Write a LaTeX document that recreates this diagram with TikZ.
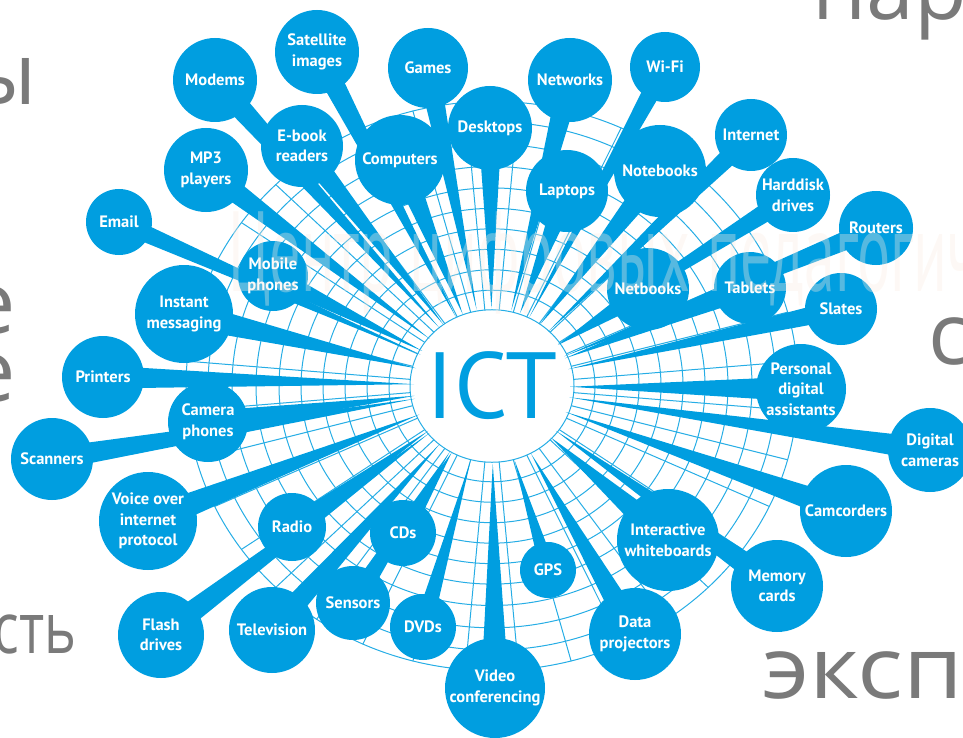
\documentclass[tikz,border=0pt]{standalone}
\usepackage{fontspec}
\setmainfont{PT Sans}
\newfontfamily\slidefont{Open Sans}
\usetikzlibrary{calc,backgrounds}
\definecolor{ictblue}{RGB}{0,158,224}
\definecolor{slidegray}{RGB}{122,122,122}
\definecolor{markbeige}{RGB}{250,236,226}
\tikzset{
  bubble/.style={circle,fill=ictblue,text=white,align=center,inner sep=0pt,font=\bfseries\fontsize{16.5}{20.5}\selectfont},
  spoke/.style={fill=ictblue},
  web/.style={draw=ictblue!85,line width=1pt},
  slide text/.style={text=slidegray,inner sep=0pt,font=\slidefont\fontsize{86}{86}\selectfont},
  watermark/.style={text=markbeige,text opacity=0.35,inner sep=0pt,font=\fontsize{114}{114}\selectfont},
}
\def\bubbles{modems/215/80/42/Modems, satellite/317/52/42/{Satellite\\images}, games/428/68/40/Games,
  ebook/302/146/41/{E-book\\readers}, computers/400/160/45/Computers, mpthree/206/170/42/{MP3\\players},
  email/119/222/33/Email, mobile/273/276/35/{Mobile\\phones}, instant/184/314/49/{Instant\\messaging},
  desktops/490/128/42/Desktops, networks/570/80/42/Networks, wifi/665/67/35/Wi-Fi,
  laptops/567/191/41/Laptops, notebooks/660/171/46/Notebooks, internet/751/135/36/Internet,
  harddisk/793/195/37/{Harddisk\\drives}, routers/876/228/37/Routers, netbooks/648/289/41/Netbooks,
  tablets/750/288/36/Tablets, slates/841/309/36/Slates, pda/801/389/45/{Personal\\digital\\assistants},
  digicam/930/450/42/{Digital\\cameras}, camcorders/846/511/46/Camcorders,
  whiteboards/668/540/51/{Interactive\\whiteboards}, memory/777/586/46/{Memory\\cards},
  gps/548/570/28/GPS, projectors/635/634/46/{Data\\projectors}, video/495/688/50/{Video\\conferencing},
  dvds/423/627/33/DVDs, sensors/353/603/37/Sensors, cds/403/533/33/CDs,
  television/272/630/43/Television, radio/292/527/34/Radio, flash/161/635/43/{Flash\\drives},
  voip/148/521/49/{Voice over\\internet\\protocol}, scanners/52/459/41/Scanners,
  cameraph/208/422/40/{Camera\\phones}, printers/103/377/41/Printers}

\begin{document}
\begin{tikzpicture}[x=1pt,y=-1pt]
\useasboundingbox (0,0) rectangle (963,738);
\clip (0,0) rectangle (963,738);
\node[text=ictblue,inner sep=0pt,font=\fontsize{94}{94}\selectfont] (ict) at (492,386) {ICT};
\foreach \nm/\px/\py/\rad/\txt in \bubbles
  \node[bubble,minimum size=2*\rad pt] (\nm) at (\px,\py) {\txt};
\begin{scope}[on background layer]
\foreach \rr in {82,103,125,147,169,191,213,236,260,284,306}
  \draw[web] (ict) ellipse [x radius=\rr, y radius=0.93*\rr];
\foreach \a in {5,15,...,355}
  \draw[web] ($(ict)+(\a:82 and 76)$) -- ($(ict)+(\a:306 and 285)$);
\foreach \nm/\px/\py/\rad/\txt [evaluate=\rad as \w using 0.28*\rad] in \bubbles
  \fill[spoke] ($(ict)!78pt!(\nm)$) -- ($(\nm)!\w pt!90:(ict)$) -- ($(\nm)!\w pt!-90:(ict)$) -- cycle;
\end{scope}
\node[watermark,anchor=base west] (wmark) at (228,291) {\scalebox{0.545}[1]{Центр цифровых педагогич}};
\node[slide text,anchor=base east] (fragA) at (37,105) {ы};
\node[slide text,anchor=base east] (fragB) at (16,333) {е};
\node[slide text,anchor=base east] (fragC) at (16,401) {е};
\node[slide text,anchor=base east,font=\slidefont\fontsize{71}{71}\selectfont] (fragD) at (77,653) {\scalebox{0.76}[1]{сть}};
\node[slide text,anchor=base west] (fragE) at (812,20) {нар};
\node[slide text,anchor=base west] (fragF) at (928,364) {с};
\node[slide text,anchor=base west] (fragG) at (762,698) {\scalebox{1.12}[1]{эксп}};
\end{tikzpicture}
\end{document}
